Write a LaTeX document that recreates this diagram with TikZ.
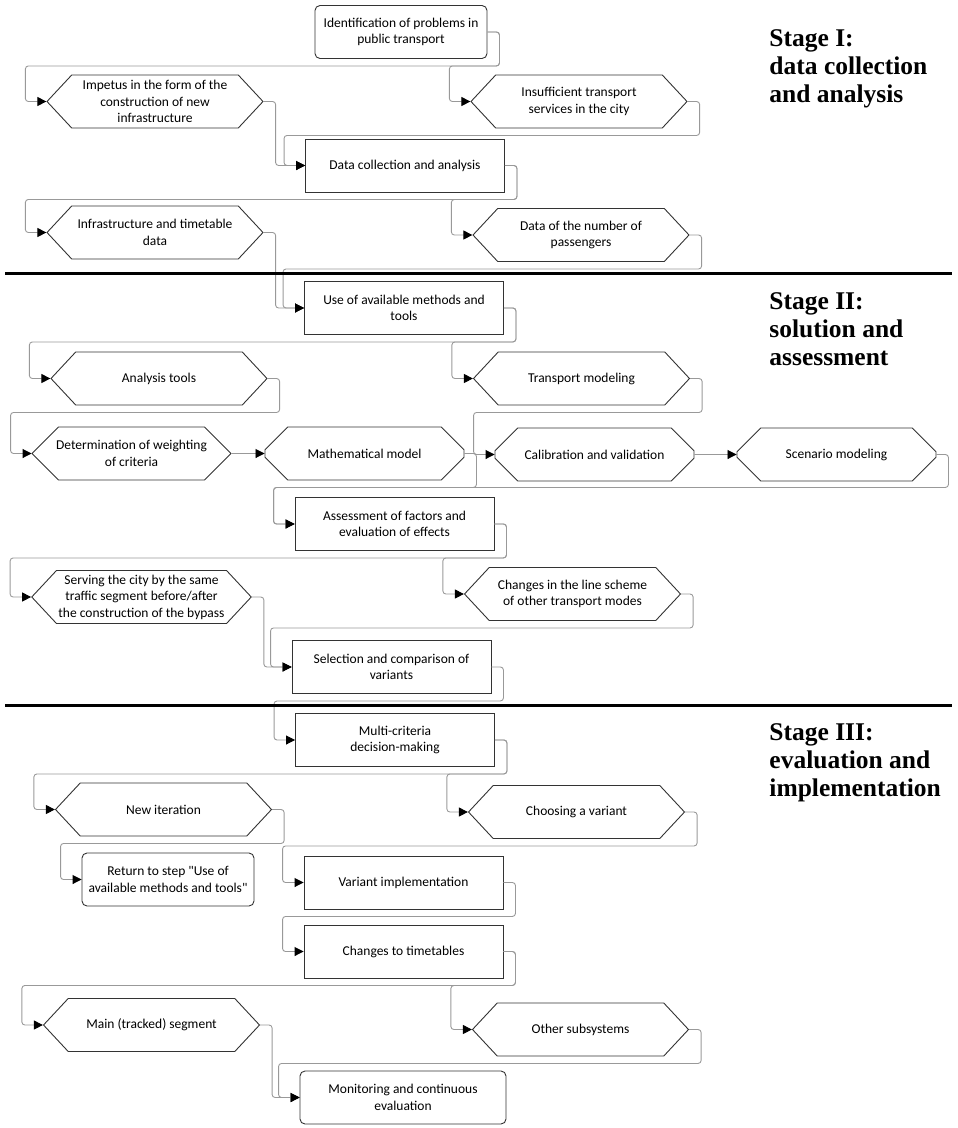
\documentclass[tikz,border=0pt]{standalone}
\usepackage{fontspec}
\setmainfont{Carlito}
\newfontfamily\stagefont{Liberation Serif}
\usetikzlibrary{shapes.symbols,shapes.misc,arrows.meta}

\begin{document}
\begin{tikzpicture}[
        x=1pt, y=-1pt,
        every node/.style={font=\fontsize{13.5}{16.5}\selectfont, align=center, inner sep=2pt, draw=black!80, line width=0.9pt},
        boxnode/.style={rectangle, minimum width=199pt, minimum height=53pt},
        roundnode/.style={rectangle, rounded corners=5pt, minimum width=172pt, minimum height=53pt},
        hexnode/.style={signal, signal to=west and east, signal pointer angle=94, minimum width=216pt, minimum height=53pt},
        octnode/.style={chamfered rectangle, chamfered rectangle xsep=16pt, chamfered rectangle ysep=16pt, minimum width=199pt, minimum height=53pt},
        link/.style={draw=black!40, line width=0.9pt, rounded corners=3pt, -{Triangle[color=black,length=9pt,width=9pt]}},
        stage/.style={draw=none, font=\stagefont\bfseries\fontsize{25.5}{28}\selectfont, align=left, anchor=base west, inner sep=0pt}
        ]
    \useasboundingbox (0,0) rectangle (958,1128);

    % stage I
    \node (ident) at (401,32) [roundnode] {Identification of problems in\\public transport};
    \node (impetus) at (155,101.5) [hexnode] {Impetus in the form of the\\construction of new\\infrastructure};
    \node (insuff) at (579,101.5) [hexnode] {Insufficient transport\\services in the city};
    \node (datacoll) at (405,165.5) [boxnode] {Data collection and analysis};
    \node (infra) at (155,232.5) [hexnode] {Infrastructure and timetable\\data};
    \node (passeng) at (581,235) [hexnode] {Data of the number of\\passengers};

    % stage II
    \node (methods) at (404,308) [boxnode] {Use of available methods and\\tools};
    \node (analysis) at (159,378.5) [hexnode] {Analysis tools};
    \node (transport) at (581.5,378.5) [hexnode] {Transport modeling};
    \node (weighting) at (131.5,453.5) [octnode, inner ysep=-2.5pt] {Determination of weighting\\of criteria};
    \node (mathmodel) at (364.5,453.5) [octnode] {Mathematical model};
    \node (calib) at (594.5,454.5) [octnode] {Calibration and validation};
    \node (scenario) at (836.5,454.5) [octnode] {Scenario modeling};
    \node (assess) at (394.5,524) [boxnode] {Assessment of factors and\\evaluation of effects};
    \node (serving) at (141.5,597) [hexnode] {Serving the city by the same\\traffic segment before/after\\the construction of the bypass};
    \node (linescheme) at (572.5,594) [hexnode] {Changes in the line scheme\\of other transport modes};
    \node (selection) at (391.5,667) [boxnode] {Selection and comparison of\\variants};

    % stage III
    \node (multi) at (395,740) [boxnode] {Multi-criteria\\decision-making};
    \node (newiter) at (163.5,809.5) [hexnode] {New iteration};
    \node (choosing) at (576.5,812) [hexnode] {Choosing a variant};
    \node (return) at (168,879.5) [roundnode] {Return to step \textquotedbl Use of\\available methods and tools\textquotedbl};
    \node (implement) at (403.5,882.5) [boxnode] {Variant implementation};
    \node (timetables) at (403.5,951.5) [boxnode] {Changes to timetables};
    \node (mainseg) at (151.5,1025) [hexnode] {Main (tracked) segment};
    \node (othersub) at (580.5,1029.5) [hexnode] {Other subsystems};
    \node (monitor) at (403,1097.5) [roundnode, minimum width=206pt] {Monitoring and continuous\\evaluation};

    \draw[link] (ident.east) -- ++(12,0) |- ([xshift=-21pt,yshift=-7pt]impetus.west |- ident.south) |- (impetus.west);
    \draw[link] (ident.east) -- ++(12,0) |- ([xshift=-21pt,yshift=-7pt]insuff.west |- ident.south) |- (insuff.west);
    \draw[link] (impetus.east) -- ++(12,0) |- (datacoll.west);
    \draw[link] (insuff.east) -- ++(12,0) |- ([xshift=-21pt,yshift=-7pt]datacoll.west |- insuff.south) |- (datacoll.west);
    \draw[link] (datacoll.east) -- ++(12,0) |- ([xshift=-21pt,yshift=-7pt]infra.west |- datacoll.south) |- (infra.west);
    \draw[link] (datacoll.east) -- ++(12,0) |- ([xshift=-21pt,yshift=-7pt]passeng.west |- datacoll.south) |- (passeng.west);
    \draw[link] (infra.east) -- ++(12,0) |- (methods.west);
    \draw[link] (passeng.east) -- ++(12,0) |- ([xshift=-21pt,yshift=-7pt]methods.west |- passeng.south) |- (methods.west);
    \draw[link] (methods.east) -- ++(12,0) |- ([xshift=-21pt,yshift=-7pt]analysis.west |- methods.south) |- (analysis.west);
    \draw[link] (methods.east) -- ++(12,0) |- ([xshift=-21pt,yshift=-7pt]transport.west |- methods.south) |- (transport.west);
    \draw[link] (analysis.east) -- ++(12,0) |- ([xshift=-21pt,yshift=-7pt]weighting.west |- analysis.south) |- (weighting.west);
    \draw[link] (transport.east) -- ++(12,0) |- ([xshift=-21pt,yshift=-7pt]calib.west |- transport.south) |- (calib.west);
    \draw[link] (weighting) -- (mathmodel);
    \draw[link] (calib) -- (scenario);
    \draw[link] (mathmodel.east) -- ++(12,0) |- ([xshift=-21pt,yshift=-7pt]assess.west |- mathmodel.south) |- (assess.west);
    \draw[link] (scenario.east) -- ++(12,0) |- ([xshift=-21pt,yshift=-7pt]assess.west |- mathmodel.south) |- (assess.west);
    \draw[link] (assess.east) -- ++(12,0) |- ([xshift=-21pt,yshift=-7pt]serving.west |- assess.south) |- (serving.west);
    \draw[link] (assess.east) -- ++(12,0) |- ([xshift=-21pt,yshift=-7pt]linescheme.west |- assess.south) |- (linescheme.west);
    \draw[link] (serving.east) -- ++(12,0) |- (selection.west);
    \draw[link] (linescheme.east) -- ++(12,0) |- ([xshift=-21pt,yshift=-7pt]selection.west |- linescheme.south) |- (selection.west);
    \draw[link] (selection.east) -- ++(12,0) |- ([xshift=-21pt,yshift=-7pt]multi.west |- selection.south) |- (multi.west);
    \draw[link] (multi.east) -- ++(12,0) |- ([xshift=-21pt,yshift=-7pt]newiter.west |- multi.south) |- (newiter.west);
    \draw[link] (multi.east) -- ++(12,0) |- ([xshift=-21pt,yshift=-7pt]choosing.west |- multi.south) |- (choosing.west);
    \draw[link] (newiter.east) -- ++(12,0) |- ([xshift=-21pt,yshift=-7pt]return.west |- newiter.south) |- (return.west);
    \draw[link] (choosing.east) -- ++(12,0) |- ([xshift=-21pt,yshift=-7pt]implement.west |- choosing.south) |- (implement.west);
    \draw[link] (implement.east) -- ++(12,0) |- ([xshift=-21pt,yshift=-7pt]timetables.west |- implement.south) |- (timetables.west);
    \draw[link] (timetables.east) -- ++(12,0) |- ([xshift=-21pt,yshift=-7pt]mainseg.west |- timetables.south) |- (mainseg.west);
    \draw[link] (timetables.east) -- ++(12,0) |- ([xshift=-21pt,yshift=-7pt]othersub.west |- timetables.south) |- (othersub.west);
    \draw[link] (mainseg.east) -- ++(12,0) |- (monitor.west);
    \draw[link] (othersub.east) -- ++(12,0) |- ([xshift=-21pt,yshift=-7pt]monitor.west |- othersub.south) |- (monitor.west);

    % stage borders and titles
    \draw[line width=3pt] (5,273) -- (952,273);
    \draw[line width=3pt] (5,705) -- (952,705);
    \node (stage1) at (769,102) [stage] {Stage I:\\data collection\\and analysis};
    \node (stage2) at (769,365) [stage] {Stage II:\\solution and\\assessment};
    \node (stage3) at (769,796) [stage] {Stage III:\\evaluation and\\implementation};
\end{tikzpicture}
\end{document}
